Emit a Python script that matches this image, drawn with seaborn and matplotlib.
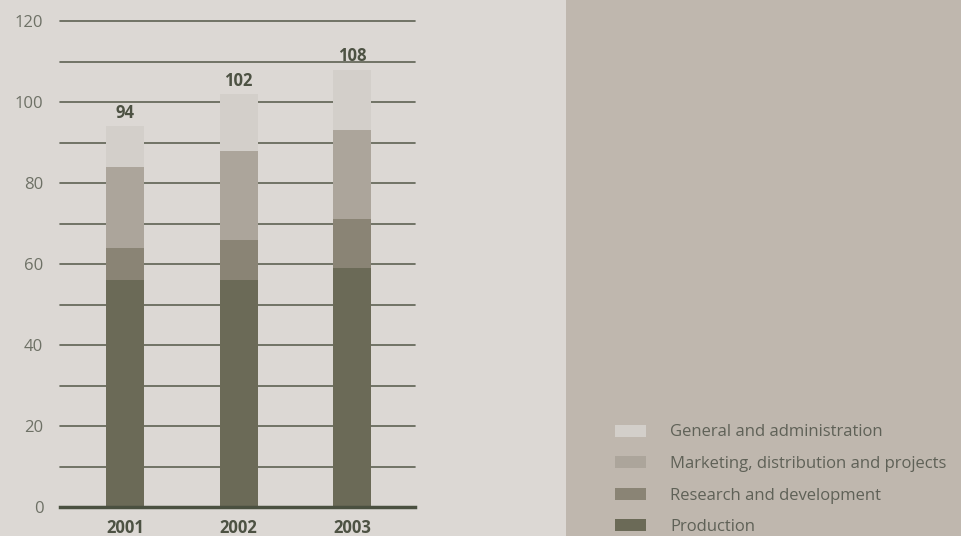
import pandas as pd
import matplotlib.pyplot as plt
import matplotlib.patches as mpatches
import seaborn as sns

# data
years = ["2001", "2002", "2003"]
production = [56, 56, 59]
research = [8, 10, 12]
marketing = [20, 22, 22]
general = [10, 14, 15]

segments = ["Production", "Research and development",
            "Marketing, distribution and projects", "General and administration"]
colors = ["#6b6a57", "#8a8475", "#aca59b", "#d3cfca"]

df = pd.DataFrame({
    "Year": years,
    "Production": production,
    "Research and development": research,
    "Marketing, distribution and projects": marketing,
    "General and administration": general,
})
# cumulative heights, so the bars can be drawn back to front
cum = df[segments].cumsum(axis=1)
cum["Year"] = df["Year"]
totals = cum["General and administration"].tolist()

sns.set_style("white")
plt.rcParams["font.family"] = ["Open Sans", "DejaVu Sans"]

fig = plt.figure(figsize=(9.62, 5.36), dpi=100)
fig.patch.set_facecolor("#dcd8d4")
# darker panel on the right
fig.patches.append(mpatches.Rectangle((566 / 962, 0), 1 - 566 / 962, 1,
                                      transform=fig.transFigure,
                                      facecolor="#bfb7ae", edgecolor="none", zorder=0))

ax = fig.add_axes([60 / 962, 1 - 507 / 536, 355 / 962, 486 / 536])
ax.set_facecolor("none")

for seg, col in reversed(list(zip(segments, colors))):
    sns.barplot(data=cum, x="Year", y=seg, color=col, width=0.335,
                saturation=1, linewidth=0, edgecolor="none", ax=ax, zorder=3)

for i, t in enumerate(totals):
    ax.annotate(str(t), (i, t), xytext=(0, 3), textcoords="offset points",
                ha="center", va="bottom", fontsize=12, fontweight="bold",
                color="#4d5243")

ax.set_xlim(-0.573, 2.555)
ax.set_ylim(0, 120)
ax.set_yticks(range(0, 121, 20))
ax.set_yticks(range(10, 120, 20), minor=True)
ax.yaxis.grid(True, which="both", color="#5e6253", linewidth=1.2, zorder=0)
ax.xaxis.grid(False)
for t in ax.yaxis.get_major_ticks() + ax.yaxis.get_minor_ticks():
    t.gridline.set_clip_on(False)
ax.set_axisbelow(True)
ax.set_xlabel("")
ax.set_ylabel("")
ax.tick_params(axis="y", length=0, pad=12, labelsize=12, labelcolor="#6e7166")
ax.tick_params(axis="y", which="minor", length=0)
ax.tick_params(axis="x", length=0, pad=8.5, labelsize=12, labelcolor="#4d5243")
for lab in ax.get_xticklabels():
    lab.set_fontweight("bold")
for side in ["top", "right", "left"]:
    ax.spines[side].set_visible(False)
ax.spines["bottom"].set_color("#4a5040")
ax.spines["bottom"].set_linewidth(2.5)
ax.spines["bottom"].set_zorder(5)

handles = [mpatches.Patch(facecolor=c, edgecolor="none", label=s)
           for s, c in zip(segments, colors)][::-1]
leg = fig.legend(handles=handles, loc="lower left",
                 bbox_to_anchor=(615 / 962, 1 / 536), frameon=False,
                 fontsize=12, handlelength=1.87, handleheight=0.72,
                 handletextpad=1.45, labelspacing=0.93, borderpad=0,
                 borderaxespad=0)
for txt in leg.get_texts():
    txt.set_color("#5f6157")

fig.savefig("out.png", dpi=100, facecolor=fig.get_facecolor())
